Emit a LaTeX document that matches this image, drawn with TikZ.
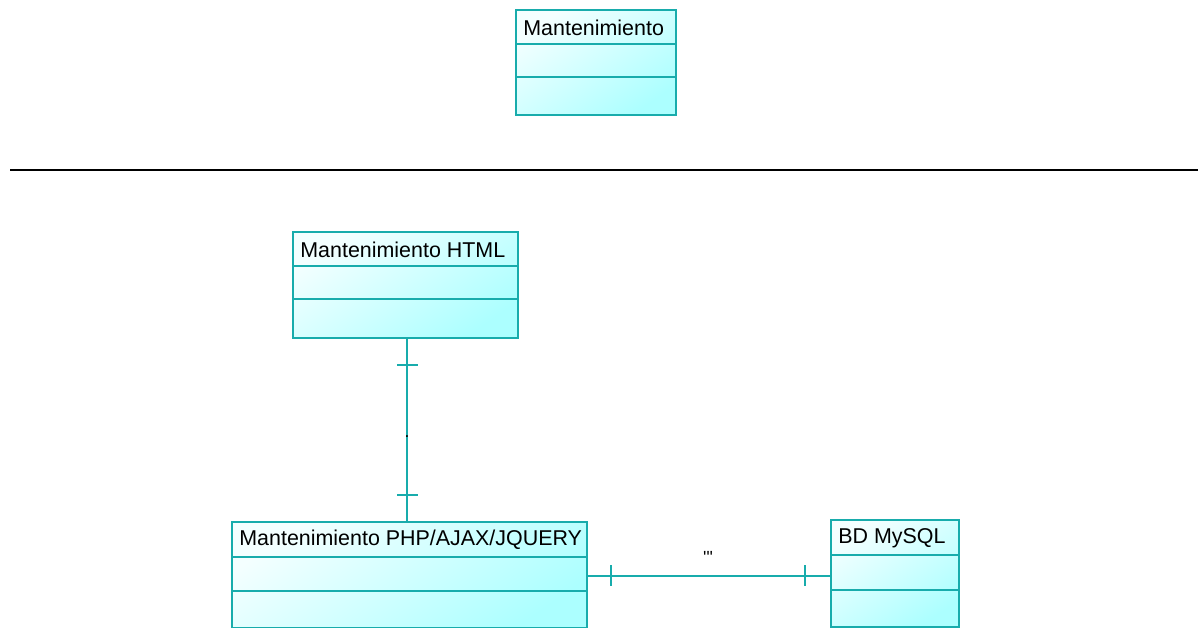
\documentclass[tikz,border=0pt]{standalone}
\usepackage{fontspec}
\setmainfont{Liberation Sans}
\begin{document}
\definecolor{umlteal}{RGB}{24,172,172}
\definecolor{umllight}{RGB}{244,255,255}
\definecolor{umlcyan}{RGB}{172,255,255}
\tikzset{
  classbox/.style={draw=umlteal, line width=1.1pt, rectangle, inner sep=0pt,
    top color=umllight, bottom color=umlcyan, shading angle=35, anchor=north west},
  compart/.style={draw=umlteal, line width=1.1pt},
  classname/.style={anchor=west, inner sep=0pt, font=\fontsize{12.2}{14}\selectfont},
  conn/.style={draw=umlteal, line width=1.1pt},
  rulestyle/.style={draw=black, line width=0.6pt},
  connlabel/.style={inner sep=0pt, font=\fontsize{10}{12}\selectfont}
}
% UML class: name, x, y (top-left), width, height, header height, second line, title
\newcommand{\umlclass}[8]{%
  \node[classbox, minimum width=#4*0.02cm, minimum height=#5*0.02cm] (#1) at (#2,#3) {};
  \draw[compart] ([yshift=-#6*0.02cm]#1.north west) -- ([yshift=-#6*0.02cm]#1.north east);
  \draw[compart] ([yshift=-#7*0.02cm]#1.north west) -- ([yshift=-#7*0.02cm]#1.north east);
  \node[classname] (#1-title) at ([xshift=8*0.02cm, yshift=-#6*0.01cm-0.02cm]#1.north west) {#8};
}
\begin{tikzpicture}[x=0.02cm, y=-0.02cm]
  \useasboundingbox (0,0) rectangle (1200,628);

  \umlclass{mant}{515}{9}{160}{105}{35}{68}{Mantenimiento}
  \umlclass{html}{292}{231}{225}{106}{35}{68}{Mantenimiento HTML}
  \umlclass{php}{231}{521}{355}{106}{36}{70}{Mantenimiento PHP/AJAX/JQUERY}
  \umlclass{bd}{830}{519}{128}{107}{36}{71}{BD MySQL}

  % separator rule
  \coordinate (ruleL) at (10,170);
  \coordinate (ruleR) at (1198,170);
  \draw[rulestyle] (ruleL) -- (ruleR);

  % HTML -- PHP association
  \coordinate (vTop) at (407,337);
  \coordinate (vBot) at (407,521);
  \draw[conn] (html.south -| vTop) -- (php.north -| vBot);
  \draw[conn] (397,365) -- (418,365);
  \draw[conn] (397,495) -- (418,495);
  \node[connlabel, anchor=base] (vlabel) at (407,437) {.};

  % PHP -- BD association
  \coordinate (hMid) at (700,576);
  \draw[conn] (php.east |- hMid) -- (bd.west |- hMid);
  \draw[conn] (611,565) -- (611,586);
  \draw[conn] (805,565) -- (805,586);
  \node[connlabel] (hlabel) at (708,557) {\textquotesingle\textquotedbl};
\end{tikzpicture}
\end{document}
